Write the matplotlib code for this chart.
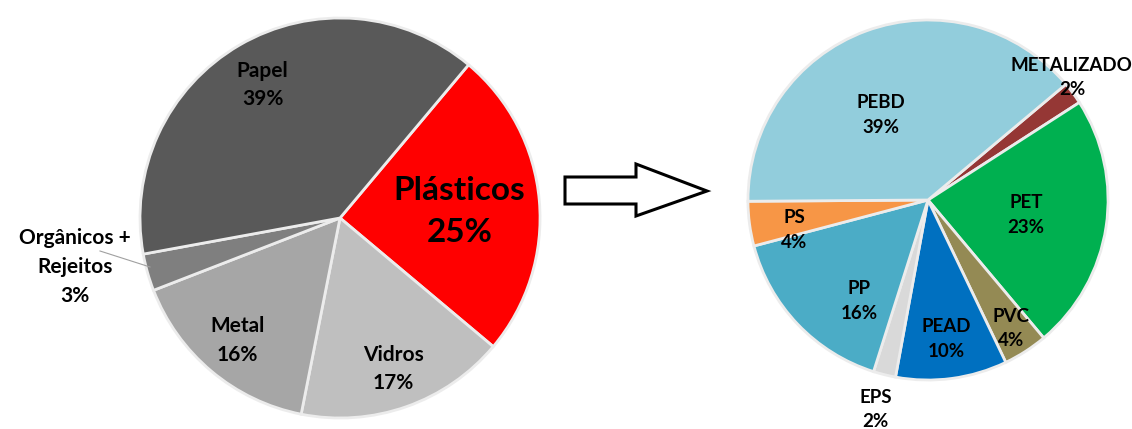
import numpy as np
import matplotlib
matplotlib.use("Agg")
import matplotlib.pyplot as plt
from matplotlib.patches import Polygon

plt.rcParams['font.family'] = ['Lato', 'DejaVu Sans']

# left pie - composition of waste
res_labels = ["Plásticos", "Vidros", "Metal", "Orgânicos +\nRejeitos", "Papel"]
res_values = [25, 17, 16, 3, 39]
res_colors = ["#ff0000", "#bfbfbf", "#a6a6a6", "#7f7f7f", "#595959"]

# right pie - plastic types
pla_labels = ["METALIZADO", "PET", "PVC", "PEAD", "EPS", "PP", "PS", "PEBD"]
pla_values = [2, 23, 4, 10, 2, 16, 4, 39]
pla_colors = ["#953735", "#00b050", "#948a54", "#0070c0", "#d9d9d9",
              "#4bacc6", "#f79646", "#92cddc"]

W, H = 1132, 429
fig = plt.figure(figsize=(W / 100, H / 100), dpi=100)
ax = fig.add_axes([0, 0, 1, 1])


def py(y):
    # pixel row -> data y
    return H - y


# ---- left pie
c1 = (340, py(218)); r1 = 200
w1, _ = ax.pie(res_values, colors=res_colors, startangle=50, counterclock=False,
               explode=[0.05, 0, 0, 0.04, 0], center=c1, radius=r1,
               wedgeprops=dict(edgecolor="#ececec", linewidth=2))

left_dist = [0.6, 0.8, 0.8, None, 0.77]
for w, lab, v, d in zip(w1, res_labels, res_values, left_dist):
    if d is None:
        continue
    a = np.deg2rad((w.theta1 + w.theta2) / 2)
    x = c1[0] + d * r1 * np.cos(a)
    y = c1[1] + d * r1 * np.sin(a)
    if lab == "Plásticos":
        ax.text(x, y - 4, f"{lab}\n{v}%", ha="center", va="center", fontsize=24,
                fontweight="bold", linespacing=1.55)
    else:
        ax.text(x, y, f"{lab}\n{v}%", ha="center", va="center", fontsize=15,
                fontweight="bold", linespacing=1.55)

# outside label for Orgânicos + Rejeitos
ax.text(75, py(267), f"{res_labels[3]}\n{res_values[3]}%", ha="center", va="center",
        fontsize=15, fontweight="bold", linespacing=1.55)
ax.plot([100, 150], [py(251), py(267)], color="#a0a0a0", lw=0.8)

# ---- arrow
arrow = Polygon([(565, py(177)), (636, py(177)), (636, py(164)), (707, py(191)),
                 (636, py(216)), (636, py(204)), (565, py(204))],
                closed=True, facecolor="white", edgecolor="black", lw=2.2,
                joinstyle="miter")
ax.add_patch(arrow)

# ---- right pie
c2 = (928, py(200)); r2 = 180
w2, _ = ax.pie(pla_values, colors=pla_colors, startangle=40, counterclock=False,
               explode=[0.07, 0.05, 0.04, 0.02, 0.02, 0.02, 0.07, 0],
               center=c2, radius=r2,
               wedgeprops=dict(edgecolor="#ececec", linewidth=2))

right_dist = [1.05, 0.55, 0.85, 0.78, 1.2, 0.68, 0.76, 0.54]
right_shift = [4, 0, 0, 0, 0, 12, 5, 9]
for w, lab, v, d, s in zip(w2, pla_labels, pla_values, right_dist, right_shift):
    a = np.deg2rad((w.theta1 + w.theta2) / 2 + s)
    x = c2[0] + d * r2 * np.cos(a)
    y = c2[1] + d * r2 * np.sin(a)
    ax.text(x, y, f"{lab}\n{v}%", ha="center", va="center", fontsize=13.5,
            fontweight="bold", linespacing=1.55)

ax.set_xlim(0, W)
ax.set_ylim(0, H)
ax.set_aspect("equal")
ax.axis("off")

fig.savefig("out.png", dpi=100, facecolor="white")
